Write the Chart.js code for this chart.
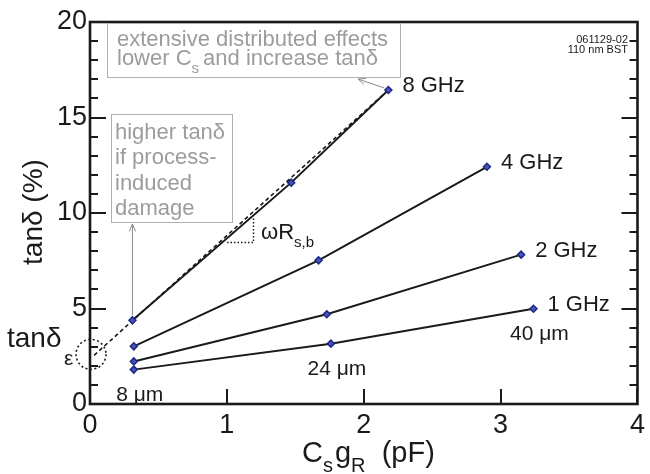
<!DOCTYPE html>
<html>
<head>
<meta charset="utf-8">
<script src="https://cdn.jsdelivr.net/npm/chart.js@4.4.0/dist/chart.umd.min.js"></script>
<style>
  html, body { margin: 0; padding: 0; background: #fff; }
  #wrap { width: 650px; height: 474px; }
</style>
</head>
<body>
<div id="wrap"><canvas id="c" width="650" height="474"></canvas></div>
<script>
// ─── DATA ───
const freqLabels = ['1 GHz', '2 GHz', '4 GHz', '8 GHz'];
const widthLabels = ['8 μm', '24 μm', '40 μm'];
const xTicks = [0, 1, 2, 3, 4];
const yTicks = [0, 5, 10, 15, 20];

// C_s g_R (pF) and tanδ (%) for each frequency, one point per electrode width
const x1GHz = [0.32, 1.76, 3.24];
const y1GHz = [1.80, 3.16, 4.99];
const x2GHz = [0.32, 1.73, 3.15];
const y2GHz = [2.23, 4.70, 7.82];
const x4GHz = [0.32, 1.67, 2.90];
const y4GHz = [3.02, 7.52, 12.42];
const x8GHz = [0.31, 1.47, 2.18];
const y8GHz = [4.38, 11.59, 16.44];

// linear extrapolation to tanδ_ε
const xExtrap = [0.03, 2.18];
const yExtrap = [2.55, 16.44];
const tanEps = 2.6;

const FONT = "'Liberation Sans', Arial, Helvetica, sans-serif";
const INK = '#1a1a1a';
const GREY = '#9c9c9c';

function pts(xs, ys) { return xs.map((x, i) => ({ x: x, y: ys[i] })); }

const seriesX = [x1GHz, x2GHz, x4GHz, x8GHz];
const seriesY = [y1GHz, y2GHz, y4GHz, y8GHz];

const datasets = seriesX.map((xs, i) => ({
    label: freqLabels[i],
    data: pts(xs, seriesY[i]),
    showLine: true,
    borderColor: INK,
    borderWidth: 2,
    pointStyle: 'rectRot',
    pointRadius: 3.5,
    pointBorderColor: '#1f2a85',
    pointBackgroundColor: '#4656b8',
    pointBorderWidth: 1.5,
    order: 1
}));

datasets.unshift({
    label: 'extrapolation',
    data: pts(xExtrap, yExtrap),
    showLine: true,
    borderColor: INK,
    borderWidth: 1.6,
    borderDash: [4, 3],
    pointRadius: 0,
    order: 2
});

// ─── TEXT HELPERS ───
function runs(ctx, x, y, parts, size, color) {
    ctx.fillStyle = color;
    ctx.textBaseline = 'alphabetic';
    ctx.textAlign = 'left';
    let cx = x;
    parts.forEach(p => {
        const s = p.sub ? Math.round(size * 0.7) : size;
        ctx.font = s + 'px ' + FONT;
        ctx.fillText(p.t, cx, y + (p.sub ? size * 0.36 : 0));
        cx += ctx.measureText(p.t).width + (p.gap || 0);
    });
    return cx - x;
}

function arrow(ctx, x1, y1, x2, y2, color) {
    ctx.save();
    ctx.setLineDash([]);
    ctx.strokeStyle = color;
    ctx.lineWidth = 1;
    ctx.beginPath();
    ctx.moveTo(x1, y1);
    ctx.lineTo(x2, y2);
    ctx.stroke();
    const a = Math.atan2(y2 - y1, x2 - x1);
    const L = 8, W = 0.4;
    ctx.beginPath();
    ctx.moveTo(x2 - L * Math.cos(a - W), y2 - L * Math.sin(a - W));
    ctx.lineTo(x2, y2);
    ctx.lineTo(x2 - L * Math.cos(a + W), y2 - L * Math.sin(a + W));
    ctx.stroke();
    ctx.restore();
}

// ─── FRAME, INWARD TICKS, ANNOTATIONS ───
const framePlugin = {
    id: 'frame',
    afterDraw(chart) {
        const { ctx, chartArea: a, scales: { x, y } } = chart;
        ctx.save();
        ctx.setLineDash([]);
        ctx.strokeStyle = INK;
        ctx.lineWidth = 2;
        ctx.lineCap = 'butt';
        for (let v = 0; v <= 20; v++) {
            const py = Math.round(y.getPixelForValue(v));
            const len = (v % 5 === 0) ? 16 : 8;
            ctx.beginPath();
            ctx.moveTo(a.left, py);
            ctx.lineTo(a.left + len, py);
            ctx.stroke();
            ctx.beginPath();
            ctx.moveTo(a.right, py);
            ctx.lineTo(a.right - len, py);
            ctx.stroke();
        }
        xTicks.forEach(v => {
            const px = Math.round(x.getPixelForValue(v));
            ctx.beginPath();
            ctx.moveTo(px, a.bottom);
            ctx.lineTo(px, a.bottom - 15);
            ctx.stroke();
        });
        ctx.lineWidth = 2.6;
        ctx.strokeRect(a.left, a.top, a.right - a.left, a.bottom - a.top);

        // axis titles
        runs(ctx, 302, 462, [{ t: 'C' }, { t: 's', sub: true, gap: 2 }, { t: 'g' }, { t: 'R', sub: true, gap: 0 }, { t: '  (pF)' }], 29, INK);
        ctx.save();
        ctx.translate(34, 212);
        ctx.rotate(-Math.PI / 2);
        ctx.font = '28px ' + FONT;
        ctx.fillStyle = INK;
        ctx.textAlign = 'center';
        ctx.textBaseline = 'middle';
        ctx.fillText('tanδ (%)', 0, 0);
        ctx.restore();

        // frequency labels next to last point
        seriesX.forEach((xs, i) => {
            const n = xs.length - 1;
            const px = x.getPixelForValue(xs[n]);
            const py = y.getPixelForValue(seriesY[i][n]);
            ctx.font = '22px ' + FONT;
            ctx.fillStyle = INK;
            ctx.textAlign = 'left';
            ctx.textBaseline = 'middle';
            ctx.fillText(freqLabels[i], px + 14, py - 4);
        });

        // width labels under the 1 GHz points
        x1GHz.forEach((v, i) => {
            ctx.font = '21px ' + FONT;
            ctx.fillStyle = INK;
            ctx.textAlign = 'center';
            ctx.textBaseline = 'alphabetic';
            ctx.fillText(widthLabels[i], x.getPixelForValue(v) + 6, y.getPixelForValue(y1GHz[i]) + 31);
        });

        // tanδ_ε with dotted circle at the intercept
        const cx = x.getPixelForValue(0), cy = y.getPixelForValue(tanEps);
        ctx.save();
        ctx.strokeStyle = INK;
        ctx.lineWidth = 1.6;
        ctx.setLineDash([2, 2.5]);
        ctx.beginPath();
        ctx.arc(cx + 1, cy, 15, 0, Math.PI * 2);
        ctx.stroke();
        ctx.restore();
        runs(ctx, 7, 347, [{ t: 'tanδ' }], 28, INK);
        runs(ctx, 64, 365, [{ t: 'ε' }], 21, INK);

        // slope triangle ωR_s,b
        ctx.save();
        ctx.strokeStyle = INK;
        ctx.lineWidth = 1.5;
        ctx.setLineDash([1.5, 2]);
        ctx.beginPath();
        ctx.moveTo(227, 242.5); ctx.lineTo(253.5, 242.5); ctx.lineTo(253.5, 217);
        ctx.stroke();
        ctx.restore();
        runs(ctx, 261, 239, [{ t: 'ωR' }, { t: 's,b', sub: true }], 22, INK);

        // version note
        ctx.font = '11px ' + FONT;
        ctx.fillStyle = INK;
        ctx.textAlign = 'right';
        ctx.textBaseline = 'alphabetic';
        ctx.fillText('061129-02', 628, 43);
        ctx.fillText('110 nm BST', 628, 53);

        // grey annotation boxes
        ctx.strokeStyle = '#b0b0b0';
        ctx.lineWidth = 1;
        ctx.strokeRect(107.5, 23.5, 293, 54);
        ctx.strokeRect(111.5, 114.5, 121, 108);
        runs(ctx, 117, 46, [{ t: 'extensive distributed effects' }], 22, GREY);
        runs(ctx, 117, 65, [{ t: 'lower C' }, { t: 's', sub: true, gap: 4 }, { t: 'and increase tanδ' }], 22, GREY);
        ['higher tanδ', 'if process-', 'induced', 'damage'].forEach((t, i) => {
            runs(ctx, 115, 139 + i * 25.3, [{ t: t }], 22, GREY);
        });
        const p8 = { x: x.getPixelForValue(x8GHz[2]), y: y.getPixelForValue(y8GHz[2]) };
        arrow(ctx, p8.x - 4, p8.y - 2, 358, 79, '#8a8a8a');
        const p0 = { x: x.getPixelForValue(x8GHz[0]), y: y.getPixelForValue(y8GHz[0]) };
        arrow(ctx, p0.x, p0.y - 5, p0.x, 224, '#8a8a8a');

        ctx.restore();
    }
};

new Chart(document.getElementById('c'), {
    type: 'scatter',
    data: { datasets: datasets },
    plugins: [framePlugin],
    options: {
        responsive: false,
        animation: false,
        devicePixelRatio: 1,
        layout: { padding: { top: 22, right: 8, left: 0, bottom: 0 } },
        plugins: { legend: { display: false }, tooltip: { enabled: false } },
        scales: {
            x: {
                type: 'linear', min: 0, max: 4,
                afterFit: s => { s.height = 70; },
                afterBuildTicks: s => { s.ticks = xTicks.map(v => ({ value: v })); },
                grid: { display: false, drawTicks: false },
                border: { display: false },
                ticks: { padding: 5, color: INK, font: { family: FONT, size: 27 } }
            },
            y: {
                type: 'linear', min: 0, max: 20,
                afterFit: s => { s.width = 90; },
                afterBuildTicks: s => { s.ticks = yTicks.map(v => ({ value: v })); },
                grid: { display: false, drawTicks: false },
                border: { display: false },
                ticks: { padding: 3, color: INK, font: { family: FONT, size: 27 } }
            }
        }
    }
});
</script>
</body>
</html>
